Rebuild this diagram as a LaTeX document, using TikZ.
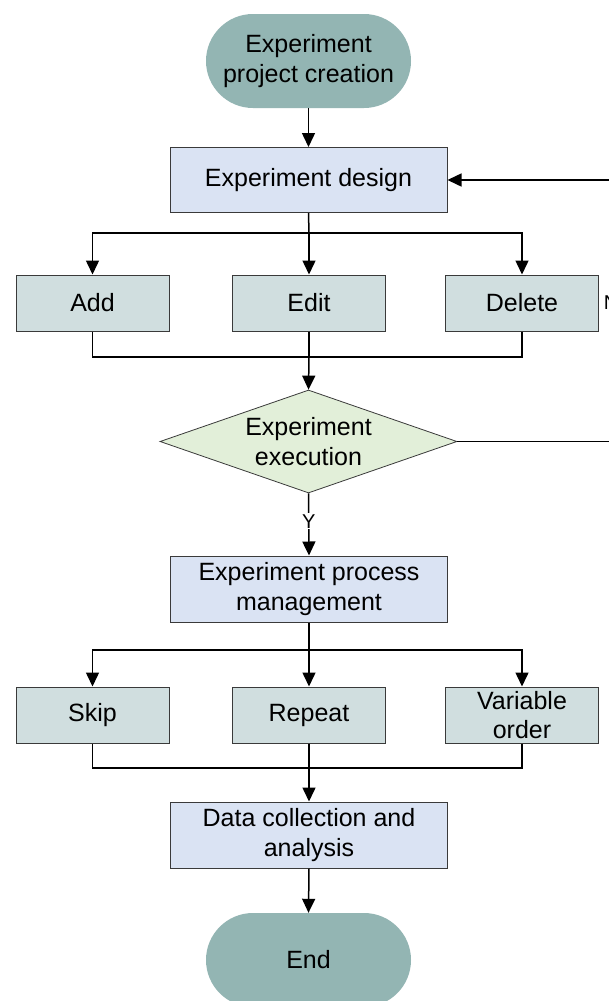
\documentclass[tikz,border=0pt]{standalone}
\usepackage{fontspec}
\setmainfont{Liberation Sans}
\usetikzlibrary{arrows.meta,shapes.misc,shapes.geometric}
\definecolor{termfill}{HTML}{93B5B3}
\definecolor{bluefill}{HTML}{DAE3F3}
\definecolor{greyfill}{HTML}{D0DEDF}
\definecolor{greenfill}{HTML}{E2EFD9}
\definecolor{edge}{HTML}{3A3A3A}
\begin{document}
\begin{tikzpicture}[x=1pt,y=-1pt,
  every node/.style={font=\fontsize{25}{29.5}\selectfont, align=center, inner sep=0pt},
  term/.style={rounded rectangle, fill=termfill, minimum width=205pt, minimum height=94pt},
  mainbox/.style={rectangle, draw=edge, line width=1pt, fill=bluefill, minimum width=277pt, minimum height=66pt},
  subbox/.style={rectangle, draw=edge, line width=1pt, fill=greyfill, minimum width=153pt, minimum height=56pt},
  decision/.style={diamond, aspect=2.88, draw=edge, line width=0.8pt, fill=greenfill, minimum width=297pt, minimum height=103pt},
  conn/.style={line width=1.5pt, black},
  arr/.style={conn, -{Triangle[length=14pt,width=13pt]}},
  lbl/.style={font=\fontsize{20}{24}\selectfont, fill=white, inner sep=1pt}
]
\useasboundingbox (0,0) rectangle (609,1001);
\fill[white] (0,0) rectangle (609,1001);
\clip (0,0) rectangle (609,1001);

% nodes
\node[term] (start) at (308.5,61) {Experiment\\project creation};
\node[mainbox, minimum height=65pt] (design) at (308.5,180) {Experiment design};
\node[subbox] (add) at (92.5,303) {Add};
\node[subbox] (edit) at (309,303) {Edit};
\node[subbox] (delete) at (522,303) {Delete};
\node[decision] (exec) at (308.5,441.5) {Experiment\\execution};
\node[mainbox] (proc) at (309,589) {Experiment process\\management};
\node[subbox] (skip) at (92.5,715) {Skip};
\node[subbox] (repeat) at (309,715) {Repeat};
\node[subbox] (varord) at (522,715) {Variable\\order};
\node[mainbox] (data) at (309,835) {Data collection and\\analysis};
\node[term] (end) at (308.5,960) {End};

% helper coordinates
\coordinate (b1) at (309,233);
\coordinate (m1) at (309,357);
\coordinate (b2) at (309,650);
\coordinate (m2) at (309,768);
\coordinate (r1) at (611,441.5);
\coordinate (r2) at (611,180);

% connectors
\draw[arr] (start.south) -- (design.north);
\draw[conn] (design.south) -- (b1);
\draw[arr] (b1) -| (add.north);
\draw[arr] (b1) -- (edit.north);
\draw[arr] (b1) -| (delete.north);
\draw[conn] (add.south) |- (m1);
\draw[conn] (delete.south) |- (m1);
\draw[conn] (edit.south) -- (m1);
\draw[arr] (m1) -- (exec.north);

\draw[conn] (exec.east) -- (r1) -- (r2);
\draw[arr] (r2) -- (design.east);
\node[lbl] (nlabel) at (611,303) {N};

\draw[arr] (exec.south) -- node[lbl, pos=0.45] (ylabel) {Y} (proc.north);

\draw[conn] (proc.south) -- (b2);
\draw[arr] (b2) -| (skip.north);
\draw[arr] (b2) -- (repeat.north);
\draw[arr] (b2) -| (varord.north);
\draw[conn] (skip.south) |- (m2);
\draw[conn] (varord.south) |- (m2);
\draw[conn] (repeat.south) -- (m2);
\draw[arr] (m2) -- (data.north);

\draw[arr] (data.south) -- (end.north);
\end{tikzpicture}
\end{document}
